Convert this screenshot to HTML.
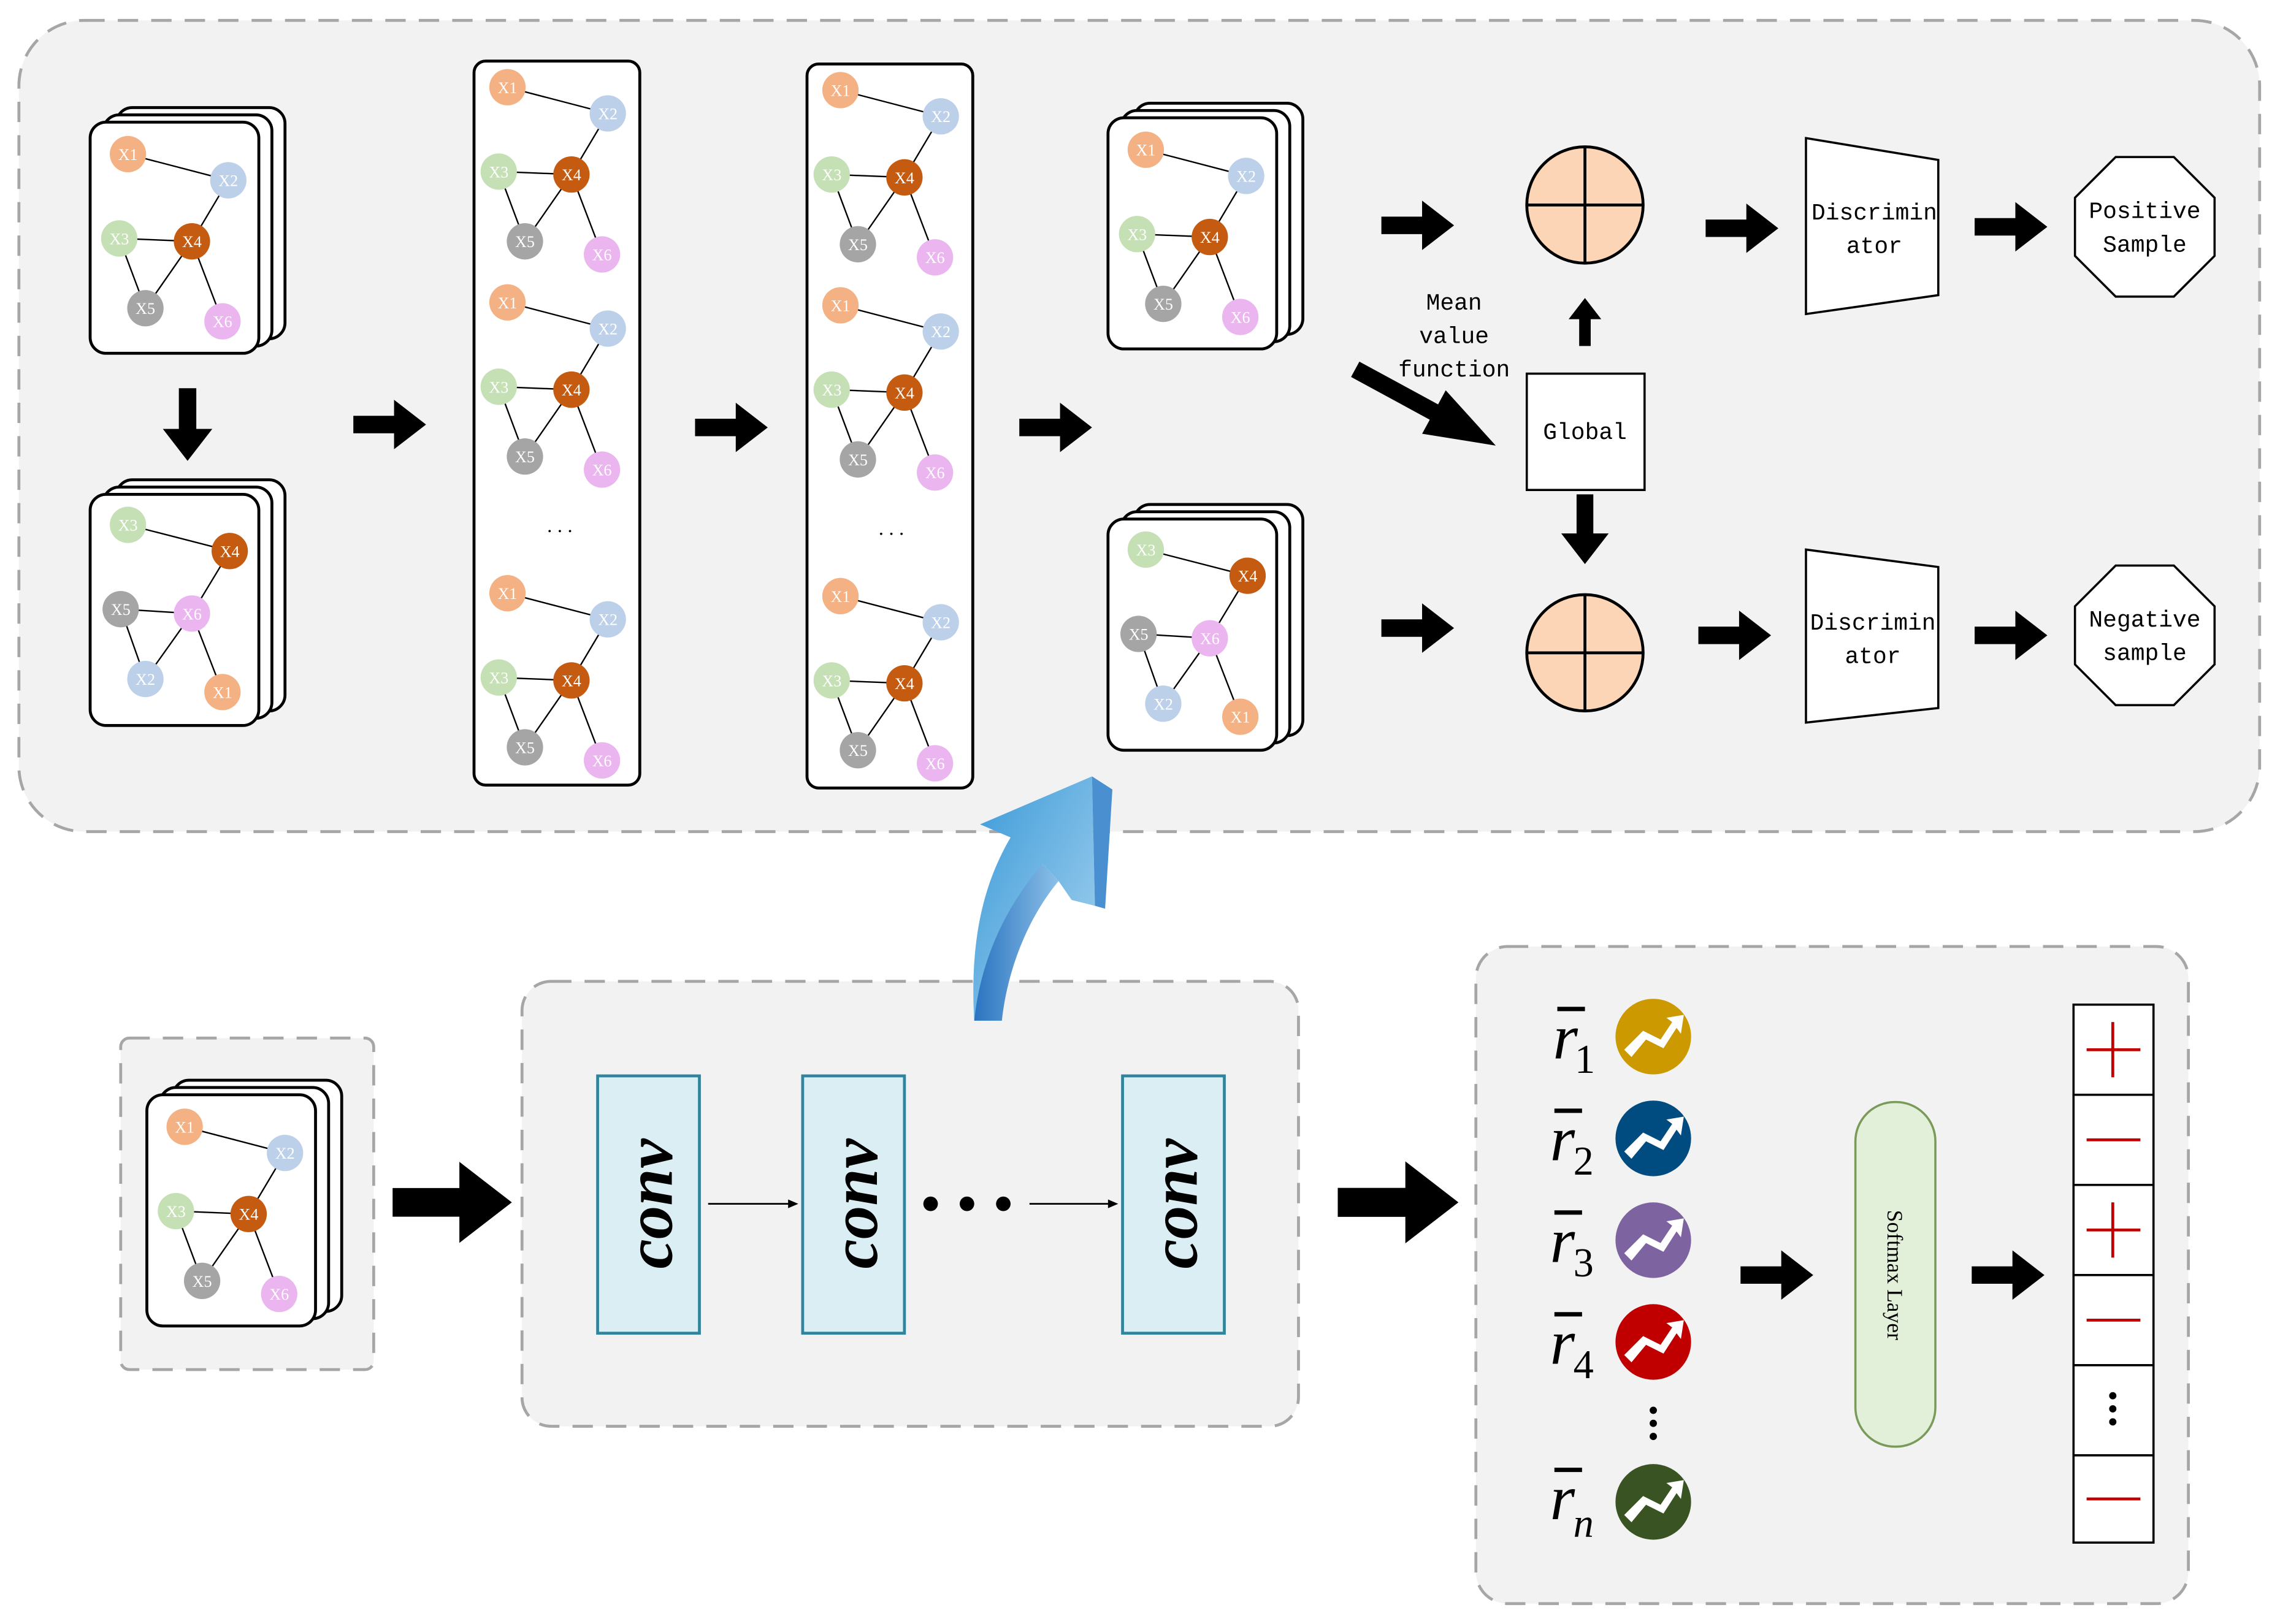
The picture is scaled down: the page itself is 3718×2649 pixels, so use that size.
<!DOCTYPE html>
<html><head><meta charset="utf-8"><style>
html,body{margin:0;padding:0;background:#fff}
svg{display:block}
</style></head><body>
<svg width="3718" height="2649" viewBox="0 0 1568 1117" preserveAspectRatio="none" xmlns="http://www.w3.org/2000/svg" font-family="Liberation Serif, serif">
<defs>
<g id="gA">
 <g stroke="#000" stroke-width="1">
  <line x1="26" y1="22" x2="95" y2="40"/><line x1="95" y1="40" x2="70" y2="82"/>
  <line x1="20" y1="80" x2="70" y2="82"/><line x1="20" y1="80" x2="38" y2="128"/>
  <line x1="70" y1="82" x2="38" y2="128"/><line x1="70" y1="82" x2="91" y2="137"/>
 </g>
 <circle cx="26" cy="22" r="12.5" fill="#f4b183"/><circle cx="95" cy="40" r="12.5" fill="#bdd0e9"/>
 <circle cx="20" cy="80" r="12.5" fill="#c5e0b4"/><circle cx="70" cy="82" r="12.5" fill="#c55a11"/>
 <circle cx="38" cy="128" r="12.5" fill="#a5a5a5"/><circle cx="91" cy="137" r="12.5" fill="#ebb5f0"/>
 <g fill="#fff" font-size="11" text-anchor="middle">
  <text x="26" y="26">X1</text><text x="95" y="44">X2</text><text x="20" y="84">X3</text>
  <text x="70" y="86">X4</text><text x="38" y="132">X5</text><text x="91" y="141">X6</text>
 </g>
</g>
<g id="gB">
 <g stroke="#000" stroke-width="1">
  <line x1="26" y1="21" x2="96" y2="39"/><line x1="96" y1="39" x2="70" y2="82"/>
  <line x1="21" y1="79" x2="70" y2="82"/><line x1="21" y1="79" x2="38" y2="127"/>
  <line x1="70" y1="82" x2="38" y2="127"/><line x1="70" y1="82" x2="91" y2="136"/>
 </g>
 <circle cx="26" cy="21" r="12.5" fill="#c5e0b4"/><circle cx="96" cy="39" r="12.5" fill="#c55a11"/>
 <circle cx="21" cy="79" r="12.5" fill="#a5a5a5"/><circle cx="70" cy="82" r="12.5" fill="#ebb5f0"/>
 <circle cx="38" cy="127" r="12.5" fill="#bdd0e9"/><circle cx="91" cy="136" r="12.5" fill="#f4b183"/>
 <g fill="#fff" font-size="11" text-anchor="middle">
  <text x="26" y="25">X3</text><text x="96" y="43">X4</text><text x="21" y="83">X5</text>
  <text x="70" y="86">X6</text><text x="38" y="131">X2</text><text x="91" y="140">X1</text>
 </g>
</g>
<g id="stack">
 <rect x="18" y="-10" width="116" height="159" rx="11" fill="#fff" stroke="#000" stroke-width="2"/>
 <rect x="9" y="-5" width="116" height="159" rx="11" fill="#fff" stroke="#000" stroke-width="2"/>
 <rect x="0" y="0" width="116" height="159" rx="11" fill="#fff" stroke="#000" stroke-width="2"/>
</g>
<path id="arr" d="M0,-6 L28,-6 L28,-17 L50,0 L28,17 L28,6 L0,6 Z" fill="#000"/>
<g id="icon">
 <path d="M-20,9 L-7,-4 L5,2 L13,-10 L9,-13 L21,-15 L19,-2 L16,-6 L7,8 L-5,2 L-15,14 Z" fill="#fff"/>
</g>
<linearGradient id="bl" x1="0" y1="0" x2="1" y2="1">
 <stop offset="0" stop-color="#3a9ad8"/><stop offset="1" stop-color="#a8d3f0"/>
</linearGradient>
<linearGradient id="bl2" x1="0" y1="0" x2="1" y2="0">
 <stop offset="0" stop-color="#2a74c0"/><stop offset="1" stop-color="#8cc0e8"/>
</linearGradient>
</defs>

<rect x="13" y="14" width="1541" height="558" rx="45" fill="#f2f2f2" stroke="#a6a6a6" stroke-width="2" stroke-dasharray="14,9"/>

<use href="#stack" x="62" y="84"/><use href="#gA" x="62" y="84"/>
<use href="#stack" x="62" y="340"/><use href="#gB" x="62" y="340"/>

<rect x="326" y="42" width="114" height="498" rx="8" fill="#fff" stroke="#000" stroke-width="2"/>
<use href="#gA" x="323" y="38"/><use href="#gA" x="323" y="186"/><use href="#gA" x="323" y="386"/>
<text x="385" y="366" font-size="14" text-anchor="middle">. . .</text>
<rect x="555" y="44" width="114" height="498" rx="8" fill="#fff" stroke="#000" stroke-width="2"/>
<use href="#gA" x="552" y="40"/><use href="#gA" x="552" y="188"/><use href="#gA" x="552" y="388"/>
<text x="613" y="368" font-size="14" text-anchor="middle">. . .</text>

<use href="#stack" x="762" y="81"/><use href="#gA" x="762" y="81"/>
<use href="#stack" x="762" y="357"/><use href="#gB" x="762" y="357"/>

<use href="#arr" transform="translate(129,267) rotate(90)"/>
<use href="#arr" x="243" y="292"/>
<use href="#arr" x="478" y="294"/>
<use href="#arr" x="701" y="294"/>
<use href="#arr" x="950" y="155"/>
<use href="#arr" x="950" y="432"/>
<use href="#arr" x="1173" y="157"/>
<use href="#arr" x="1168" y="437"/>
<use href="#arr" x="1358" y="156"/>
<use href="#arr" x="1358" y="437"/>
<use href="#arr" transform="translate(1090,238) rotate(-90) scale(0.66)"/>
<use href="#arr" transform="translate(1090,340) rotate(90) scale(0.96)"/>
<use href="#arr" transform="translate(932,254) rotate(28.5) scale(2.2,1)"/>

<g font-size="16" text-anchor="middle" font-family="Liberation Mono, monospace"><text x="1000" y="213">Mean</text><text x="1000" y="236">value</text><text x="1000" y="259">function</text></g>

<g stroke="#000" stroke-width="2" fill="#fbd5b5">
 <circle cx="1090" cy="141" r="40"/><line x1="1050" y1="141" x2="1130" y2="141"/><line x1="1090" y1="101" x2="1090" y2="181"/>
 <circle cx="1090" cy="449" r="40"/><line x1="1050" y1="449" x2="1130" y2="449"/><line x1="1090" y1="409" x2="1090" y2="489"/>
</g>
<rect x="1050" y="257" width="81" height="80" fill="#fff" stroke="#000" stroke-width="1.5"/>
<text x="1090" y="302" font-size="16" text-anchor="middle" font-family="Liberation Mono, monospace">Global</text>

<path d="M1242,95 L1333,110 L1333,203 L1242,216 Z" fill="#fff" stroke="#000" stroke-width="1.5"/>
<path d="M1242,378 L1333,390 L1333,487 L1242,497 Z" fill="#fff" stroke="#000" stroke-width="1.5"/>
<g font-size="16" text-anchor="middle" font-family="Liberation Mono, monospace">
 <text x="1289" y="151">Discrimin</text><text x="1289" y="174">ator</text>
 <text x="1288" y="433">Discrimin</text><text x="1288" y="456">ator</text>
</g>
<path d="M1455,108 L1495,108 L1523,136 L1523,176 L1495,204 L1455,204 L1427,176 L1427,136 Z" fill="#fff" stroke="#000" stroke-width="1.5"/>
<path d="M1455,389 L1495,389 L1523,417 L1523,457 L1495,485 L1455,485 L1427,457 L1427,417 Z" fill="#fff" stroke="#000" stroke-width="1.5"/>
<g font-size="16" text-anchor="middle" font-family="Liberation Mono, monospace">
 <text x="1475" y="150">Positive</text><text x="1475" y="173">Sample</text>
 <text x="1475" y="431">Negative</text><text x="1475" y="454">sample</text>
</g>

<rect x="83" y="714" width="174" height="228" rx="6" fill="#f2f2f2" stroke="#a6a6a6" stroke-width="2" stroke-dasharray="14,9"/>
<use href="#stack" x="101" y="753"/><use href="#gA" x="101" y="753"/>
<use href="#arr" transform="translate(270,827) scale(1.64)"/>

<rect x="359" y="675" width="534" height="306" rx="20" fill="#f2f2f2" stroke="#a6a6a6" stroke-width="2" stroke-dasharray="14,9"/>
<g fill="#daeef3" stroke="#31849b" stroke-width="2">
 <rect x="411" y="740" width="70" height="177"/><rect x="552" y="740" width="70" height="177"/><rect x="772" y="740" width="70" height="177"/>
</g>
<g font-size="46" font-style="italic" font-weight="bold" text-anchor="middle">
 <text transform="translate(462,828) rotate(-90)">conv</text>
 <text transform="translate(603,828) rotate(-90)">conv</text>
 <text transform="translate(823,828) rotate(-90)">conv</text>
</g>
<g stroke="#000" stroke-width="1.2"><line x1="487" y1="828" x2="543" y2="828"/><line x1="708" y1="828" x2="763" y2="828"/></g>
<path d="M549,828 L542,825 L542,831 Z M769,828 L762,825 L762,831 Z" fill="#000"/>
<g fill="#000"><circle cx="640" cy="828" r="5"/><circle cx="665" cy="828" r="5"/><circle cx="690" cy="828" r="5"/></g>
<use href="#arr" transform="translate(920,827) scale(1.66)"/>

<path d="M670,702 C667,650 675,610 695,576 L674,567 L751,534 L753,623 L737,619 L728,606 L717,594 C700,618 690,655 689,702 Z" fill="url(#bl)"/>
<path d="M717,594 L728,606 C708,630 693,665 689,702 L670,702 C675,655 695,620 717,594 Z" fill="url(#bl2)"/>
<path d="M751,534 L765,543 L760,625 L753,623 Z" fill="#4a8fd0"/>

<rect x="1015" y="651" width="490" height="452" rx="22" fill="#f2f2f2" stroke="#a6a6a6" stroke-width="2" stroke-dasharray="14,9"/>
<g font-size="44" font-style="italic">
 <text x="1068" y="728">r</text><text x="1066" y="798">r</text><text x="1066" y="868">r</text><text x="1066" y="938">r</text><text x="1066" y="1045">r</text>
</g>
<g font-size="28"><text x="1083" y="738">1</text><text x="1082" y="808">2</text><text x="1082" y="878">3</text><text x="1082" y="948">4</text><text x="1082" y="1057" font-style="italic">n</text></g>
<g stroke="#000" stroke-width="3">
 <line x1="1071" y1="694" x2="1090" y2="694"/><line x1="1069" y1="764" x2="1088" y2="764"/><line x1="1069" y1="834" x2="1088" y2="834"/><line x1="1069" y1="904" x2="1088" y2="904"/><line x1="1069" y1="1011" x2="1088" y2="1011"/>
</g>
<circle cx="1137" cy="713" r="26" fill="#cc9a00"/><use href="#icon" x="1137" y="713"/>
<circle cx="1137" cy="783" r="26" fill="#004b7f"/><use href="#icon" x="1137" y="783"/>
<circle cx="1137" cy="853" r="26" fill="#7d64a0"/><use href="#icon" x="1137" y="853"/>
<circle cx="1137" cy="923" r="26" fill="#c00000"/><use href="#icon" x="1137" y="923"/>
<circle cx="1137" cy="1033" r="26" fill="#3a5323"/><use href="#icon" x="1137" y="1033"/>
<g fill="#000"><circle cx="1137" cy="970" r="2.5"/><circle cx="1137" cy="979" r="2.5"/><circle cx="1137" cy="988" r="2.5"/></g>
<use href="#arr" x="1197" y="877"/>
<rect x="1276" y="758" width="55" height="237" rx="27" fill="#e2efd9" stroke="#7a9a5a" stroke-width="1.5"/>
<text transform="translate(1298,877) rotate(90)" font-size="15" text-anchor="middle">Softmax Layer</text>
<use href="#arr" x="1356" y="877"/>
<g fill="#fff" stroke="#000" stroke-width="1.5">
 <rect x="1426" y="691" width="55" height="62"/><rect x="1426" y="753" width="55" height="62"/><rect x="1426" y="815" width="55" height="62"/>
 <rect x="1426" y="877" width="55" height="62"/><rect x="1426" y="939" width="55" height="62"/><rect x="1426" y="1001" width="55" height="60"/>
</g>
<g stroke="#c00000" stroke-width="2">
 <line x1="1435" y1="722" x2="1472" y2="722"/><line x1="1453" y1="703" x2="1453" y2="741"/>
 <line x1="1435" y1="784" x2="1472" y2="784"/>
 <line x1="1435" y1="846" x2="1472" y2="846"/><line x1="1453" y1="827" x2="1453" y2="865"/>
 <line x1="1435" y1="908" x2="1472" y2="908"/>
 <line x1="1435" y1="1031" x2="1472" y2="1031"/>
</g>
<g fill="#000"><circle cx="1453" cy="960" r="2.5"/><circle cx="1453" cy="969" r="2.5"/><circle cx="1453" cy="978" r="2.5"/></g>
</svg>
</body></html>
